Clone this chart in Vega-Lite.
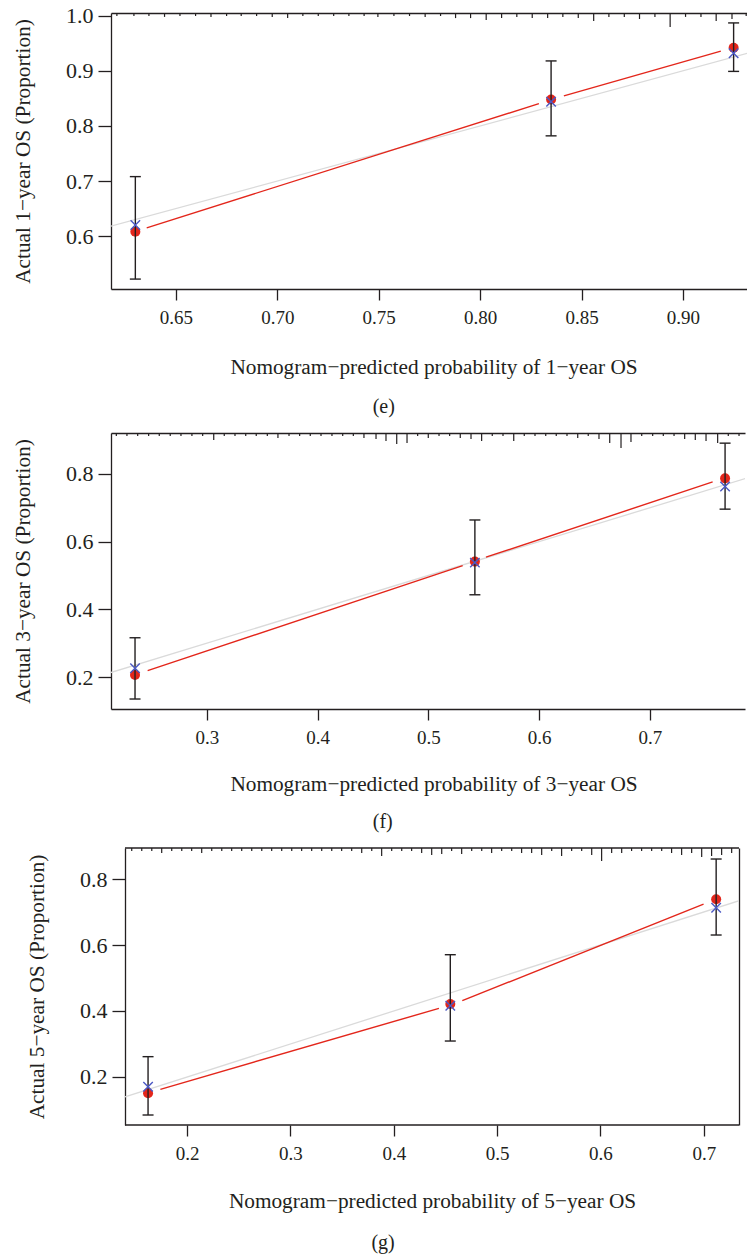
{
  "$schema": "https://vega.github.io/schema/vega-lite/v6.json",
  "background": "white",
  "padding": {"left": 12, "top": 4, "right": 0, "bottom": 0},
  "spacing": 14,
  "datasets": {
    "ideal": [{"x": 0, "y": 0, "x2": 1, "y2": 1}],
    "ideal_g": [{"x": 0.14, "y": 0.14, "x2": 1, "y2": 1}],
    "pts_e": [
      {"x": 0.630, "obs": 0.608, "est": 0.620, "lo": 0.522, "hi": 0.708},
      {"x": 0.835, "obs": 0.848, "est": 0.844, "lo": 0.782, "hi": 0.918},
      {"x": 0.925, "obs": 0.942, "est": 0.932, "lo": 0.899, "hi": 0.987}
    ],
    "seg_e": [
      {"x": 0.6356, "y": 0.615, "x2": 0.829, "y2": 0.8405},
      {"x": 0.8413, "y": 0.8545, "x2": 0.9187, "y2": 0.9358}
    ],
    "rug_e": [
      {"x": 0.6209, "freq": 1}, {"x": 0.6293, "freq": 1}, {"x": 0.6367, "freq": 1}, {"x": 0.6444, "freq": 1.3},
      {"x": 0.6520, "freq": 1}, {"x": 0.6597, "freq": 1}, {"x": 0.6673, "freq": 1.3}, {"x": 0.6750, "freq": 1},
      {"x": 0.6822, "freq": 1}, {"x": 0.6898, "freq": 1}, {"x": 0.6975, "freq": 1.3}, {"x": 0.7051, "freq": 1.7},
      {"x": 0.7126, "freq": 1}, {"x": 0.7202, "freq": 1}, {"x": 0.7278, "freq": 1}, {"x": 0.7353, "freq": 1},
      {"x": 0.7428, "freq": 1}, {"x": 0.7496, "freq": 1.3}, {"x": 0.7575, "freq": 1}, {"x": 0.7652, "freq": 1},
      {"x": 0.7729, "freq": 1.3}, {"x": 0.7805, "freq": 1}, {"x": 0.7879, "freq": 1.7}, {"x": 0.7953, "freq": 1.7},
      {"x": 0.8030, "freq": 2.3}, {"x": 0.8106, "freq": 1.7}, {"x": 0.8181, "freq": 1.3}, {"x": 0.8257, "freq": 1.7},
      {"x": 0.8333, "freq": 1.7}, {"x": 0.8408, "freq": 1.3}, {"x": 0.8484, "freq": 1.7}, {"x": 0.8560, "freq": 2.7},
      {"x": 0.8635, "freq": 1.3}, {"x": 0.8711, "freq": 1.3}, {"x": 0.8786, "freq": 2}, {"x": 0.8862, "freq": 1.3},
      {"x": 0.8937, "freq": 4.7}, {"x": 0.9013, "freq": 1.3}, {"x": 0.9089, "freq": 1.3}, {"x": 0.9164, "freq": 2.7},
      {"x": 0.9242, "freq": 2}, {"x": 0.9312, "freq": 1}
    ],
    "pts_f": [
      {"x": 0.235, "obs": 0.206, "est": 0.226, "lo": 0.135, "hi": 0.316},
      {"x": 0.542, "obs": 0.541, "est": 0.538, "lo": 0.443, "hi": 0.664},
      {"x": 0.768, "obs": 0.787, "est": 0.763, "lo": 0.696, "hi": 0.891}
    ],
    "seg_f": [
      {"x": 0.2464, "y": 0.2189, "x2": 0.531, "y2": 0.529},
      {"x": 0.552, "y": 0.554, "x2": 0.7568, "y2": 0.7764}
    ],
    "rug_f": [
      {"x": 0.2181, "freq": 1}, {"x": 0.2277, "freq": 1}, {"x": 0.2374, "freq": 1}, {"x": 0.2473, "freq": 1},
      {"x": 0.2569, "freq": 1}, {"x": 0.2668, "freq": 1}, {"x": 0.2765, "freq": 1}, {"x": 0.2864, "freq": 1},
      {"x": 0.2961, "freq": 1}, {"x": 0.3061, "freq": 2.3}, {"x": 0.3156, "freq": 1}, {"x": 0.3253, "freq": 1},
      {"x": 0.3350, "freq": 1}, {"x": 0.3445, "freq": 1}, {"x": 0.3545, "freq": 1}, {"x": 0.3641, "freq": 1.7},
      {"x": 0.3741, "freq": 1}, {"x": 0.3837, "freq": 1}, {"x": 0.3933, "freq": 1}, {"x": 0.4030, "freq": 1},
      {"x": 0.4129, "freq": 1}, {"x": 0.4226, "freq": 1}, {"x": 0.4322, "freq": 1}, {"x": 0.4418, "freq": 1.7},
      {"x": 0.4527, "freq": 2}, {"x": 0.4617, "freq": 2.7}, {"x": 0.4714, "freq": 3.7}, {"x": 0.4807, "freq": 3.3},
      {"x": 0.4903, "freq": 1}, {"x": 0.4999, "freq": 1.7}, {"x": 0.5096, "freq": 1}, {"x": 0.5192, "freq": 1},
      {"x": 0.5288, "freq": 1.7}, {"x": 0.5385, "freq": 2}, {"x": 0.5481, "freq": 2.7}, {"x": 0.5577, "freq": 1},
      {"x": 0.5674, "freq": 1}, {"x": 0.5771, "freq": 2.7}, {"x": 0.5866, "freq": 1}, {"x": 0.5963, "freq": 1},
      {"x": 0.6060, "freq": 1}, {"x": 0.6155, "freq": 1}, {"x": 0.6252, "freq": 1}, {"x": 0.6349, "freq": 1.7},
      {"x": 0.6444, "freq": 1}, {"x": 0.6541, "freq": 2}, {"x": 0.6638, "freq": 3.3}, {"x": 0.6740, "freq": 5},
      {"x": 0.6830, "freq": 3}, {"x": 0.6927, "freq": 1}, {"x": 0.7026, "freq": 1}, {"x": 0.7122, "freq": 1},
      {"x": 0.7219, "freq": 1}, {"x": 0.7315, "freq": 2}, {"x": 0.7411, "freq": 2.3}, {"x": 0.7508, "freq": 2.7},
      {"x": 0.7613, "freq": 3.3}, {"x": 0.7709, "freq": 1}, {"x": 0.7806, "freq": 1}
    ],
    "pts_g": [
      {"x": 0.1623, "obs": 0.1505, "est": 0.1706, "lo": 0.0848, "hi": 0.2616},
      {"x": 0.4547, "obs": 0.4212, "est": 0.416, "lo": 0.309, "hi": 0.5706},
      {"x": 0.7119, "obs": 0.7385, "est": 0.713, "lo": 0.6303, "hi": 0.8606}
    ],
    "seg_g": [
      {"x": 0.1742, "y": 0.1627, "x2": 0.4437, "y2": 0.408},
      {"x": 0.4663, "y": 0.4312, "x2": 0.6997, "y2": 0.7242}
    ],
    "frame_g": [
      {"x": 0.14, "x2": 0.734, "y": 0.0545},
      {"x": 0.14, "x2": 0.734, "y": 0.894}
    ],
    "rug_g": [
      {"x": 0.1465, "freq": 1}, {"x": 0.1562, "freq": 1}, {"x": 0.1659, "freq": 1}, {"x": 0.1755, "freq": 1.7},
      {"x": 0.1852, "freq": 1}, {"x": 0.1949, "freq": 1}, {"x": 0.2045, "freq": 1}, {"x": 0.2142, "freq": 1.7},
      {"x": 0.2239, "freq": 1}, {"x": 0.2336, "freq": 1}, {"x": 0.2432, "freq": 1}, {"x": 0.2529, "freq": 1},
      {"x": 0.2626, "freq": 1}, {"x": 0.2723, "freq": 1}, {"x": 0.2819, "freq": 1}, {"x": 0.2916, "freq": 1},
      {"x": 0.3013, "freq": 1}, {"x": 0.3109, "freq": 1}, {"x": 0.3206, "freq": 1}, {"x": 0.3303, "freq": 1},
      {"x": 0.3400, "freq": 1}, {"x": 0.3496, "freq": 1}, {"x": 0.3593, "freq": 1}, {"x": 0.3690, "freq": 1.7},
      {"x": 0.3787, "freq": 1}, {"x": 0.3883, "freq": 2.7}, {"x": 0.3980, "freq": 1}, {"x": 0.4077, "freq": 1},
      {"x": 0.4173, "freq": 1}, {"x": 0.4270, "freq": 1.7}, {"x": 0.4367, "freq": 2.3}, {"x": 0.4464, "freq": 2},
      {"x": 0.4560, "freq": 1}, {"x": 0.4657, "freq": 2}, {"x": 0.4754, "freq": 1}, {"x": 0.4851, "freq": 1},
      {"x": 0.4947, "freq": 1.7}, {"x": 0.5044, "freq": 1}, {"x": 0.5141, "freq": 1}, {"x": 0.5237, "freq": 1.7},
      {"x": 0.5334, "freq": 1.7}, {"x": 0.5431, "freq": 2.3}, {"x": 0.5528, "freq": 1}, {"x": 0.5624, "freq": 2.7},
      {"x": 0.5721, "freq": 1}, {"x": 0.5818, "freq": 1}, {"x": 0.5915, "freq": 2.3}, {"x": 0.6011, "freq": 4.3},
      {"x": 0.6108, "freq": 1.7}, {"x": 0.6205, "freq": 1.7}, {"x": 0.6301, "freq": 1}, {"x": 0.6398, "freq": 1},
      {"x": 0.6495, "freq": 1}, {"x": 0.6592, "freq": 1}, {"x": 0.6688, "freq": 1.7}, {"x": 0.6785, "freq": 2.3},
      {"x": 0.6882, "freq": 1.7}, {"x": 0.6979, "freq": 3}, {"x": 0.7075, "freq": 2.7}, {"x": 0.7172, "freq": 2.3},
      {"x": 0.7269, "freq": 1.7}
    ]
  },
  "vconcat": [
    {
      "width": 636, "height": 276,
      "title": {"text": "(e)", "offset": 20, "dx": 4},
      "layer": [
        {
          "layer": [
            {
              "data": {"name": "ideal"},
              "mark": {"type": "rule", "color": "#dadada", "strokeWidth": 1.3, "clip": true},
              "encoding": {
                "x": {"field": "x", "type": "quantitative", "scale": {"domain": [0.618, 0.9316], "nice": false, "zero": false},
                      "axis": {"title": "Nomogram−predicted probability of 1−year OS", "values": [0.65, 0.7, 0.75, 0.8, 0.85, 0.9], "format": ".2f", "titlePadding": 29, "titleX": 322.5, "titleAlign": "center"}},
                "y": {"field": "y", "type": "quantitative", "scale": {"domain": [0.504, 1.005], "nice": false, "zero": false},
                      "axis": {"title": "Actual 1−year OS (Proportion)", "values": [0.6, 0.7, 0.8, 0.9, 1.0], "format": ".1f"}},
                "x2": {"field": "x2"}, "y2": {"field": "y2"}
              }
            },
            {
              "data": {"name": "seg_e"},
              "mark": {"type": "rule", "color": "#e3261b", "strokeWidth": 1.4},
              "encoding": {
                "x": {"field": "x", "type": "quantitative", "scale": {"domain": [0.618, 0.9316], "nice": false, "zero": false}},
                "y": {"field": "y", "type": "quantitative", "scale": {"domain": [0.504, 1.005], "nice": false, "zero": false}},
                "x2": {"field": "x2"}, "y2": {"field": "y2"}
              }
            },
            {
              "data": {"name": "pts_e"},
              "mark": {"type": "point", "shape": "circle", "filled": true, "size": 100, "color": "#e3261b", "opacity": 1},
              "encoding": {
                "x": {"field": "x", "type": "quantitative", "scale": {"domain": [0.618, 0.9316], "nice": false, "zero": false}},
                "y": {"field": "obs", "type": "quantitative", "scale": {"domain": [0.504, 1.005], "nice": false, "zero": false}}
              }
            },
            {
              "data": {"name": "pts_e"},
              "mark": {"type": "rule", "color": "#231f20", "strokeWidth": 1.4},
              "encoding": {
                "x": {"field": "x", "type": "quantitative", "scale": {"domain": [0.618, 0.9316], "nice": false, "zero": false}},
                "y": {"field": "lo", "type": "quantitative", "scale": {"domain": [0.504, 1.005], "nice": false, "zero": false}},
                "y2": {"field": "hi"}
              }
            },
            {
              "data": {"name": "pts_e"},
              "mark": {"type": "tick", "orient": "horizontal", "size": 11, "thickness": 1.4, "color": "#231f20", "opacity": 1},
              "encoding": {
                "x": {"field": "x", "type": "quantitative", "scale": {"domain": [0.618, 0.9316], "nice": false, "zero": false}},
                "y": {"field": "lo", "type": "quantitative", "scale": {"domain": [0.504, 1.005], "nice": false, "zero": false}}
              }
            },
            {
              "data": {"name": "pts_e"},
              "mark": {"type": "tick", "orient": "horizontal", "size": 11, "thickness": 1.4, "color": "#231f20", "opacity": 1},
              "encoding": {
                "x": {"field": "x", "type": "quantitative", "scale": {"domain": [0.618, 0.9316], "nice": false, "zero": false}},
                "y": {"field": "hi", "type": "quantitative", "scale": {"domain": [0.504, 1.005], "nice": false, "zero": false}}
              }
            },
            {
              "data": {"name": "pts_e"},
              "mark": {"type": "point", "shape": "M-1,-1L1,1M-1,1L1,-1", "filled": false, "size": 90, "color": "#4b58c4", "strokeWidth": 1.4, "opacity": 1},
              "encoding": {
                "x": {"field": "x", "type": "quantitative", "scale": {"domain": [0.618, 0.9316], "nice": false, "zero": false}},
                "y": {"field": "est", "type": "quantitative", "scale": {"domain": [0.504, 1.005], "nice": false, "zero": false}}
              }
            }
          ]
        },
        {
          "data": {"name": "rug_e"},
          "mark": {"type": "rule", "color": "#231f20", "strokeWidth": 1.2},
          "encoding": {
            "x": {"field": "x", "type": "quantitative", "scale": {"domain": [0.618, 0.9316], "nice": false, "zero": false},
                  "axis": {"orient": "top", "domain": true, "ticks": false, "labels": false, "title": null}},
            "y": {"field": "freq", "type": "quantitative", "scale": {"domain": [0, 92], "reverse": true, "nice": false, "zero": true}, "axis": null},
            "y2": {"datum": 0}
          }
        }
      ],
      "resolve": {"scale": {"y": "independent"}, "axis": {"x": "independent", "y": "independent"}}
    },
    {
      "width": 634, "height": 276,
      "title": {"text": "(f)", "offset": 18, "dx": 4},
      "layer": [
        {
          "layer": [
            {
              "data": {"name": "ideal"},
              "mark": {"type": "rule", "color": "#dadada", "strokeWidth": 1.3, "clip": true},
              "encoding": {
                "x": {"field": "x", "type": "quantitative", "scale": {"domain": [0.2133, 0.786], "nice": false, "zero": false},
                      "axis": {"title": "Nomogram−predicted probability of 3−year OS", "values": [0.3, 0.4, 0.5, 0.6, 0.7], "format": ".1f", "titlePadding": 26, "titleX": 322.5, "titleAlign": "center"}},
                "y": {"field": "y", "type": "quantitative", "scale": {"domain": [0.1055, 0.921], "nice": false, "zero": false},
                      "axis": {"title": "Actual 3−year OS (Proportion)", "values": [0.2, 0.4, 0.6, 0.8], "format": ".1f"}},
                "x2": {"field": "x2"}, "y2": {"field": "y2"}
              }
            },
            {
              "data": {"name": "seg_f"},
              "mark": {"type": "rule", "color": "#e3261b", "strokeWidth": 1.4},
              "encoding": {
                "x": {"field": "x", "type": "quantitative", "scale": {"domain": [0.2133, 0.786], "nice": false, "zero": false}},
                "y": {"field": "y", "type": "quantitative", "scale": {"domain": [0.1055, 0.921], "nice": false, "zero": false}},
                "x2": {"field": "x2"}, "y2": {"field": "y2"}
              }
            },
            {
              "data": {"name": "pts_f"},
              "mark": {"type": "point", "shape": "circle", "filled": true, "size": 100, "color": "#e3261b", "opacity": 1},
              "encoding": {
                "x": {"field": "x", "type": "quantitative", "scale": {"domain": [0.2133, 0.786], "nice": false, "zero": false}},
                "y": {"field": "obs", "type": "quantitative", "scale": {"domain": [0.1055, 0.921], "nice": false, "zero": false}}
              }
            },
            {
              "data": {"name": "pts_f"},
              "mark": {"type": "rule", "color": "#231f20", "strokeWidth": 1.4},
              "encoding": {
                "x": {"field": "x", "type": "quantitative", "scale": {"domain": [0.2133, 0.786], "nice": false, "zero": false}},
                "y": {"field": "lo", "type": "quantitative", "scale": {"domain": [0.1055, 0.921], "nice": false, "zero": false}},
                "y2": {"field": "hi"}
              }
            },
            {
              "data": {"name": "pts_f"},
              "mark": {"type": "tick", "orient": "horizontal", "size": 11, "thickness": 1.4, "color": "#231f20", "opacity": 1},
              "encoding": {
                "x": {"field": "x", "type": "quantitative", "scale": {"domain": [0.2133, 0.786], "nice": false, "zero": false}},
                "y": {"field": "lo", "type": "quantitative", "scale": {"domain": [0.1055, 0.921], "nice": false, "zero": false}}
              }
            },
            {
              "data": {"name": "pts_f"},
              "mark": {"type": "tick", "orient": "horizontal", "size": 11, "thickness": 1.4, "color": "#231f20", "opacity": 1},
              "encoding": {
                "x": {"field": "x", "type": "quantitative", "scale": {"domain": [0.2133, 0.786], "nice": false, "zero": false}},
                "y": {"field": "hi", "type": "quantitative", "scale": {"domain": [0.1055, 0.921], "nice": false, "zero": false}}
              }
            },
            {
              "data": {"name": "pts_f"},
              "mark": {"type": "point", "shape": "M-1,-1L1,1M-1,1L1,-1", "filled": false, "size": 90, "color": "#4b58c4", "strokeWidth": 1.4, "opacity": 1},
              "encoding": {
                "x": {"field": "x", "type": "quantitative", "scale": {"domain": [0.2133, 0.786], "nice": false, "zero": false}},
                "y": {"field": "est", "type": "quantitative", "scale": {"domain": [0.1055, 0.921], "nice": false, "zero": false}}
              }
            }
          ]
        },
        {
          "data": {"name": "rug_f"},
          "mark": {"type": "rule", "color": "#231f20", "strokeWidth": 1.2},
          "encoding": {
            "x": {"field": "x", "type": "quantitative", "scale": {"domain": [0.2133, 0.786], "nice": false, "zero": false},
                  "axis": {"orient": "top", "domain": true, "ticks": false, "labels": false, "title": null}},
            "y": {"field": "freq", "type": "quantitative", "scale": {"domain": [0, 92], "reverse": true, "nice": false, "zero": true}, "axis": null},
            "y2": {"datum": 0}
          }
        }
      ],
      "resolve": {"scale": {"y": "independent"}, "axis": {"x": "independent", "y": "independent"}}
    },
    {
      "width": 628, "height": 277,
      "title": {"text": "(g)", "offset": 22},
      "layer": [
        {
          "layer": [
            {
              "data": {"name": "ideal_g"},
              "mark": {"type": "rule", "color": "#dadada", "strokeWidth": 1.3, "clip": true},
              "encoding": {
                "x": {"field": "x", "type": "quantitative", "scale": {"domain": [0.12645, 0.734], "nice": false, "zero": false},
                      "axis": {"title": "Nomogram−predicted probability of 5−year OS", "values": [0.2, 0.3, 0.4, 0.5, 0.6, 0.7], "format": ".1f", "domain": false, "titlePadding": 27, "titleX": 321, "titleAlign": "center"}},
                "y": {"field": "y", "type": "quantitative", "scale": {"domain": [0.0545, 0.894], "nice": false, "zero": false},
                      "axis": {"title": "Actual 5−year OS (Proportion)", "values": [0.2, 0.4, 0.6, 0.8], "format": ".1f", "offset": -14}},
                "x2": {"field": "x2"}, "y2": {"field": "y2"}
              }
            },
            {
              "data": {"name": "frame_g"},
              "mark": {"type": "rule", "color": "#231f20", "strokeWidth": 1.3},
              "encoding": {
                "x": {"field": "x", "type": "quantitative", "scale": {"domain": [0.12645, 0.734], "nice": false, "zero": false}},
                "y": {"field": "y", "type": "quantitative", "scale": {"domain": [0.0545, 0.894], "nice": false, "zero": false}},
                "x2": {"field": "x2"}
              }
            },
            {
              "data": {"name": "seg_g"},
              "mark": {"type": "rule", "color": "#e3261b", "strokeWidth": 1.4},
              "encoding": {
                "x": {"field": "x", "type": "quantitative", "scale": {"domain": [0.12645, 0.734], "nice": false, "zero": false}},
                "y": {"field": "y", "type": "quantitative", "scale": {"domain": [0.0545, 0.894], "nice": false, "zero": false}},
                "x2": {"field": "x2"}, "y2": {"field": "y2"}
              }
            },
            {
              "data": {"name": "pts_g"},
              "mark": {"type": "point", "shape": "circle", "filled": true, "size": 100, "color": "#e3261b", "opacity": 1},
              "encoding": {
                "x": {"field": "x", "type": "quantitative", "scale": {"domain": [0.12645, 0.734], "nice": false, "zero": false}},
                "y": {"field": "obs", "type": "quantitative", "scale": {"domain": [0.0545, 0.894], "nice": false, "zero": false}}
              }
            },
            {
              "data": {"name": "pts_g"},
              "mark": {"type": "rule", "color": "#231f20", "strokeWidth": 1.4},
              "encoding": {
                "x": {"field": "x", "type": "quantitative", "scale": {"domain": [0.12645, 0.734], "nice": false, "zero": false}},
                "y": {"field": "lo", "type": "quantitative", "scale": {"domain": [0.0545, 0.894], "nice": false, "zero": false}},
                "y2": {"field": "hi"}
              }
            },
            {
              "data": {"name": "pts_g"},
              "mark": {"type": "tick", "orient": "horizontal", "size": 11, "thickness": 1.4, "color": "#231f20", "opacity": 1},
              "encoding": {
                "x": {"field": "x", "type": "quantitative", "scale": {"domain": [0.12645, 0.734], "nice": false, "zero": false}},
                "y": {"field": "lo", "type": "quantitative", "scale": {"domain": [0.0545, 0.894], "nice": false, "zero": false}}
              }
            },
            {
              "data": {"name": "pts_g"},
              "mark": {"type": "tick", "orient": "horizontal", "size": 11, "thickness": 1.4, "color": "#231f20", "opacity": 1},
              "encoding": {
                "x": {"field": "x", "type": "quantitative", "scale": {"domain": [0.12645, 0.734], "nice": false, "zero": false}},
                "y": {"field": "hi", "type": "quantitative", "scale": {"domain": [0.0545, 0.894], "nice": false, "zero": false}}
              }
            },
            {
              "data": {"name": "pts_g"},
              "mark": {"type": "point", "shape": "M-1,-1L1,1M-1,1L1,-1", "filled": false, "size": 90, "color": "#4b58c4", "strokeWidth": 1.4, "opacity": 1},
              "encoding": {
                "x": {"field": "x", "type": "quantitative", "scale": {"domain": [0.12645, 0.734], "nice": false, "zero": false}},
                "y": {"field": "est", "type": "quantitative", "scale": {"domain": [0.0545, 0.894], "nice": false, "zero": false}}
              }
            }
          ]
        },
        {
          "data": {"name": "rug_g"},
          "mark": {"type": "rule", "color": "#231f20", "strokeWidth": 1.2},
          "encoding": {
            "x": {"field": "x", "type": "quantitative", "scale": {"domain": [0.12645, 0.734], "nice": false, "zero": false}, "axis": null},
            "y": {"field": "freq", "type": "quantitative", "scale": {"domain": [0, 92.3], "reverse": true, "nice": false, "zero": true},
                  "axis": {"orient": "right", "domain": true, "ticks": false, "labels": false, "title": null}},
            "y2": {"datum": 0}
          }
        }
      ],
      "resolve": {"scale": {"y": "independent"}, "axis": {"x": "independent", "y": "independent"}}
    }
  ],
  "config": {
    "view": {"stroke": null},
    "font": "Liberation Serif",
    "axis": {
      "grid": false,
      "labelFont": "Liberation Serif", "titleFont": "Liberation Serif",
      "labelColor": "#231f20", "titleColor": "#231f20",
      "tickColor": "#231f20", "domainColor": "#231f20",
      "tickWidth": 1.3, "domainWidth": 1.3,
      "titleFontWeight": "normal",
      "labelFlush": false, "labelOverlap": false
    },
    "axisX": {"tickSize": 11, "labelFontSize": 19, "titleFontSize": 21.3, "labelPadding": 8, "titlePadding": 28},
    "axisY": {"tickSize": 13, "labelFontSize": 22, "titleFontSize": 21.3, "labelPadding": 5, "titlePadding": 32},
    "title": {"font": "Liberation Serif", "fontSize": 20, "fontWeight": "normal", "color": "#231f20", "orient": "bottom", "anchor": "middle", "frame": "bounds"}
  }
}
